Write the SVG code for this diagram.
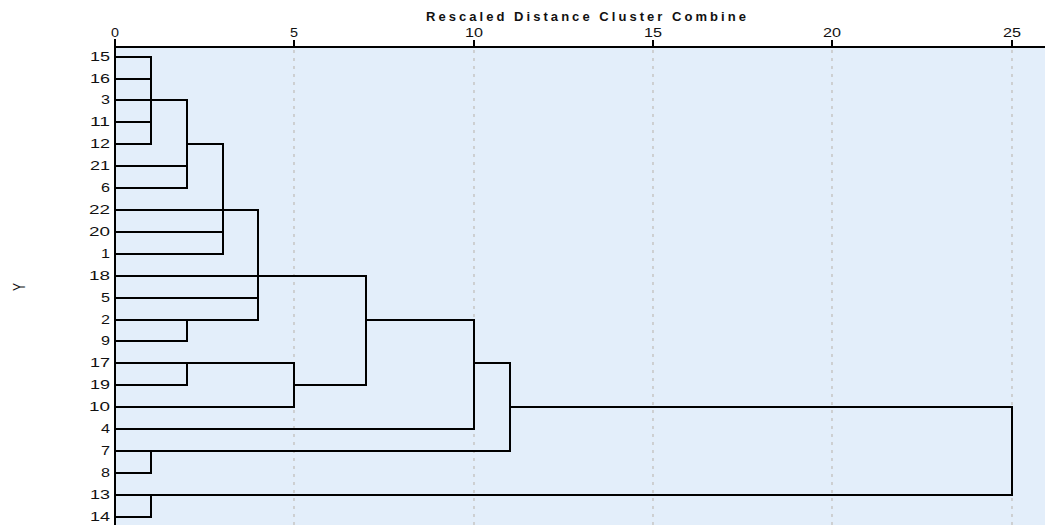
<svg xmlns="http://www.w3.org/2000/svg" width="1045" height="525" viewBox="0 0 1045 525">
  <style>
    .lbl { font-family: "Liberation Sans", Arial, sans-serif; font-size: 12px; fill: #111; }
    .leaf { text-anchor: end; }
    .tick { text-anchor: middle; }
    .title { font-family: "Liberation Sans", Arial, sans-serif; font-size: 13px; font-weight: bold; fill: #111; text-anchor: middle; }
    .grid { stroke: #c8c8c8; stroke-width: 1.6; stroke-dasharray: 3 5; fill: none; }
    .axis { stroke: #000; stroke-width: 2; fill: none; }
    .link { stroke: #000; stroke-width: 2; fill: none; stroke-linecap: square; }
  </style>

  <rect x="0" y="0" width="1045" height="525" fill="#ffffff"/>
  <!-- plot area -->
  <rect x="115" y="47" width="930" height="478" fill="#e3eefa"/>

  <!-- dashed reference lines at 5, 10, 15, 20, 25 -->
  <g id="grid">
    <line class="grid" x1="294" y1="50" x2="294" y2="525"/>
    <line class="grid" x1="474" y1="50" x2="474" y2="525"/>
    <line class="grid" x1="653" y1="50" x2="653" y2="525"/>
    <line class="grid" x1="832" y1="50" x2="832" y2="525"/>
    <line class="grid" x1="1012" y1="50" x2="1012" y2="525"/>
  </g>

  <!-- top scale -->
  <g id="axis">
    <text class="title" x="586" y="21" textLength="320" lengthAdjust="spacing">Rescaled Distance Cluster Combine</text>
    <line class="axis" x1="115" y1="47" x2="1045" y2="47"/>
    <line class="axis" x1="115" y1="39" x2="115" y2="525"/>
    <line class="axis" x1="294" y1="40" x2="294" y2="47"/>
    <line class="axis" x1="474" y1="40" x2="474" y2="47"/>
    <line class="axis" x1="653" y1="40" x2="653" y2="47"/>
    <line class="axis" x1="832" y1="40" x2="832" y2="47"/>
    <line class="axis" x1="1012" y1="40" x2="1012" y2="47"/>
    <text class="lbl tick" x="115" y="37" textLength="8" lengthAdjust="spacingAndGlyphs">0</text>
    <text class="lbl tick" x="294" y="37" textLength="8" lengthAdjust="spacingAndGlyphs">5</text>
    <text class="lbl tick" x="474" y="37" textLength="18" lengthAdjust="spacingAndGlyphs">10</text>
    <text class="lbl tick" x="653" y="37" textLength="18" lengthAdjust="spacingAndGlyphs">15</text>
    <text class="lbl tick" x="832" y="37" textLength="18" lengthAdjust="spacingAndGlyphs">20</text>
    <text class="lbl tick" x="1012" y="37" textLength="18" lengthAdjust="spacingAndGlyphs">25</text>
  </g>

  <!-- vertical axis title -->
  <text class="lbl" x="0" y="0" text-anchor="middle" font-size="12" transform="translate(25 287) rotate(-90) scale(1 1.45)">Y</text>

  <!-- case labels -->
  <g id="leaves">
    <g id="case-15"><text class="lbl leaf" x="110" y="61" textLength="20" lengthAdjust="spacingAndGlyphs">15</text></g>
    <g id="case-16"><text class="lbl leaf" x="110" y="83" textLength="20" lengthAdjust="spacingAndGlyphs">16</text></g>
    <g id="case-3"><text class="lbl leaf" x="110" y="104" textLength="9" lengthAdjust="spacingAndGlyphs">3</text></g>
    <g id="case-11"><text class="lbl leaf" x="110" y="126" textLength="20" lengthAdjust="spacingAndGlyphs">11</text></g>
    <g id="case-12"><text class="lbl leaf" x="110" y="148" textLength="20" lengthAdjust="spacingAndGlyphs">12</text></g>
    <g id="case-21"><text class="lbl leaf" x="110" y="170" textLength="20" lengthAdjust="spacingAndGlyphs">21</text></g>
    <g id="case-6"><text class="lbl leaf" x="110" y="192" textLength="9" lengthAdjust="spacingAndGlyphs">6</text></g>
    <g id="case-22"><text class="lbl leaf" x="110" y="214" textLength="21" lengthAdjust="spacingAndGlyphs">22</text></g>
    <g id="case-20"><text class="lbl leaf" x="110" y="236" textLength="21" lengthAdjust="spacingAndGlyphs">20</text></g>
    <g id="case-1"><text class="lbl leaf" x="110" y="258" textLength="9" lengthAdjust="spacingAndGlyphs">1</text></g>
    <g id="case-18"><text class="lbl leaf" x="110" y="280" textLength="21" lengthAdjust="spacingAndGlyphs">18</text></g>
    <g id="case-5"><text class="lbl leaf" x="110" y="302" textLength="9" lengthAdjust="spacingAndGlyphs">5</text></g>
    <g id="case-2"><text class="lbl leaf" x="110" y="324" textLength="9" lengthAdjust="spacingAndGlyphs">2</text></g>
    <g id="case-9"><text class="lbl leaf" x="110" y="345" textLength="9" lengthAdjust="spacingAndGlyphs">9</text></g>
    <g id="case-17"><text class="lbl leaf" x="110" y="367" textLength="20" lengthAdjust="spacingAndGlyphs">17</text></g>
    <g id="case-19"><text class="lbl leaf" x="110" y="389" textLength="20" lengthAdjust="spacingAndGlyphs">19</text></g>
    <g id="case-10"><text class="lbl leaf" x="110" y="411" textLength="21" lengthAdjust="spacingAndGlyphs">10</text></g>
    <g id="case-4"><text class="lbl leaf" x="110" y="433" textLength="9" lengthAdjust="spacingAndGlyphs">4</text></g>
    <g id="case-7"><text class="lbl leaf" x="110" y="455" textLength="9" lengthAdjust="spacingAndGlyphs">7</text></g>
    <g id="case-8"><text class="lbl leaf" x="110" y="477" textLength="9" lengthAdjust="spacingAndGlyphs">8</text></g>
    <g id="case-13"><text class="lbl leaf" x="110" y="499" textLength="20" lengthAdjust="spacingAndGlyphs">13</text></g>
    <g id="case-14"><text class="lbl leaf" x="110" y="521" textLength="20" lengthAdjust="spacingAndGlyphs">14</text></g>
  </g>

  <!-- dendrogram links -->
  <g id="links">
    <!-- 15,16,3,11,12 at distance 1 -->
    <path class="link" d="M115 57H151M115 79H151M115 122H151M115 144H151M151 57V144"/>
    <!-- + 21, 6 at distance 2 -->
    <path class="link" d="M115 100H187M115 166H187M115 188H187M187 100V188"/>
    <!-- + 20, 1 at distance 3 -->
    <path class="link" d="M187 144H223M115 232H223M115 254H223M223 144V254"/>
    <!-- 2, 9 at distance 2 -->
    <path class="link" d="M115 320H187M115 341H187M187 320V341"/>
    <!-- + 22, 5, 2-9 at distance 4 -->
    <path class="link" d="M115 210H258M115 298H258M187 320H258M258 210V320"/>
    <!-- 17, 19 at distance 2, + 10 at distance 5 -->
    <path class="link" d="M115 385H187M187 363V385M115 363H294M115 407H294M294 363V407"/>
    <!-- 18 joins at distance 7 -->
    <path class="link" d="M115 276H366M294 385H366M366 276V385"/>
    <!-- + 4 at distance 10 -->
    <path class="link" d="M366 320H474M115 429H474M474 320V429"/>
    <!-- 7, 8 at distance 1, joined at distance 11 -->
    <path class="link" d="M115 473H151M151 451V473M115 451H510M474 363H510M510 363V451"/>
    <!-- 13, 14 at distance 1, final merge at distance 25 -->
    <path class="link" d="M115 517H151M151 495V517M115 495H1012M510 407H1012M1012 407V495"/>
  </g>
</svg>
